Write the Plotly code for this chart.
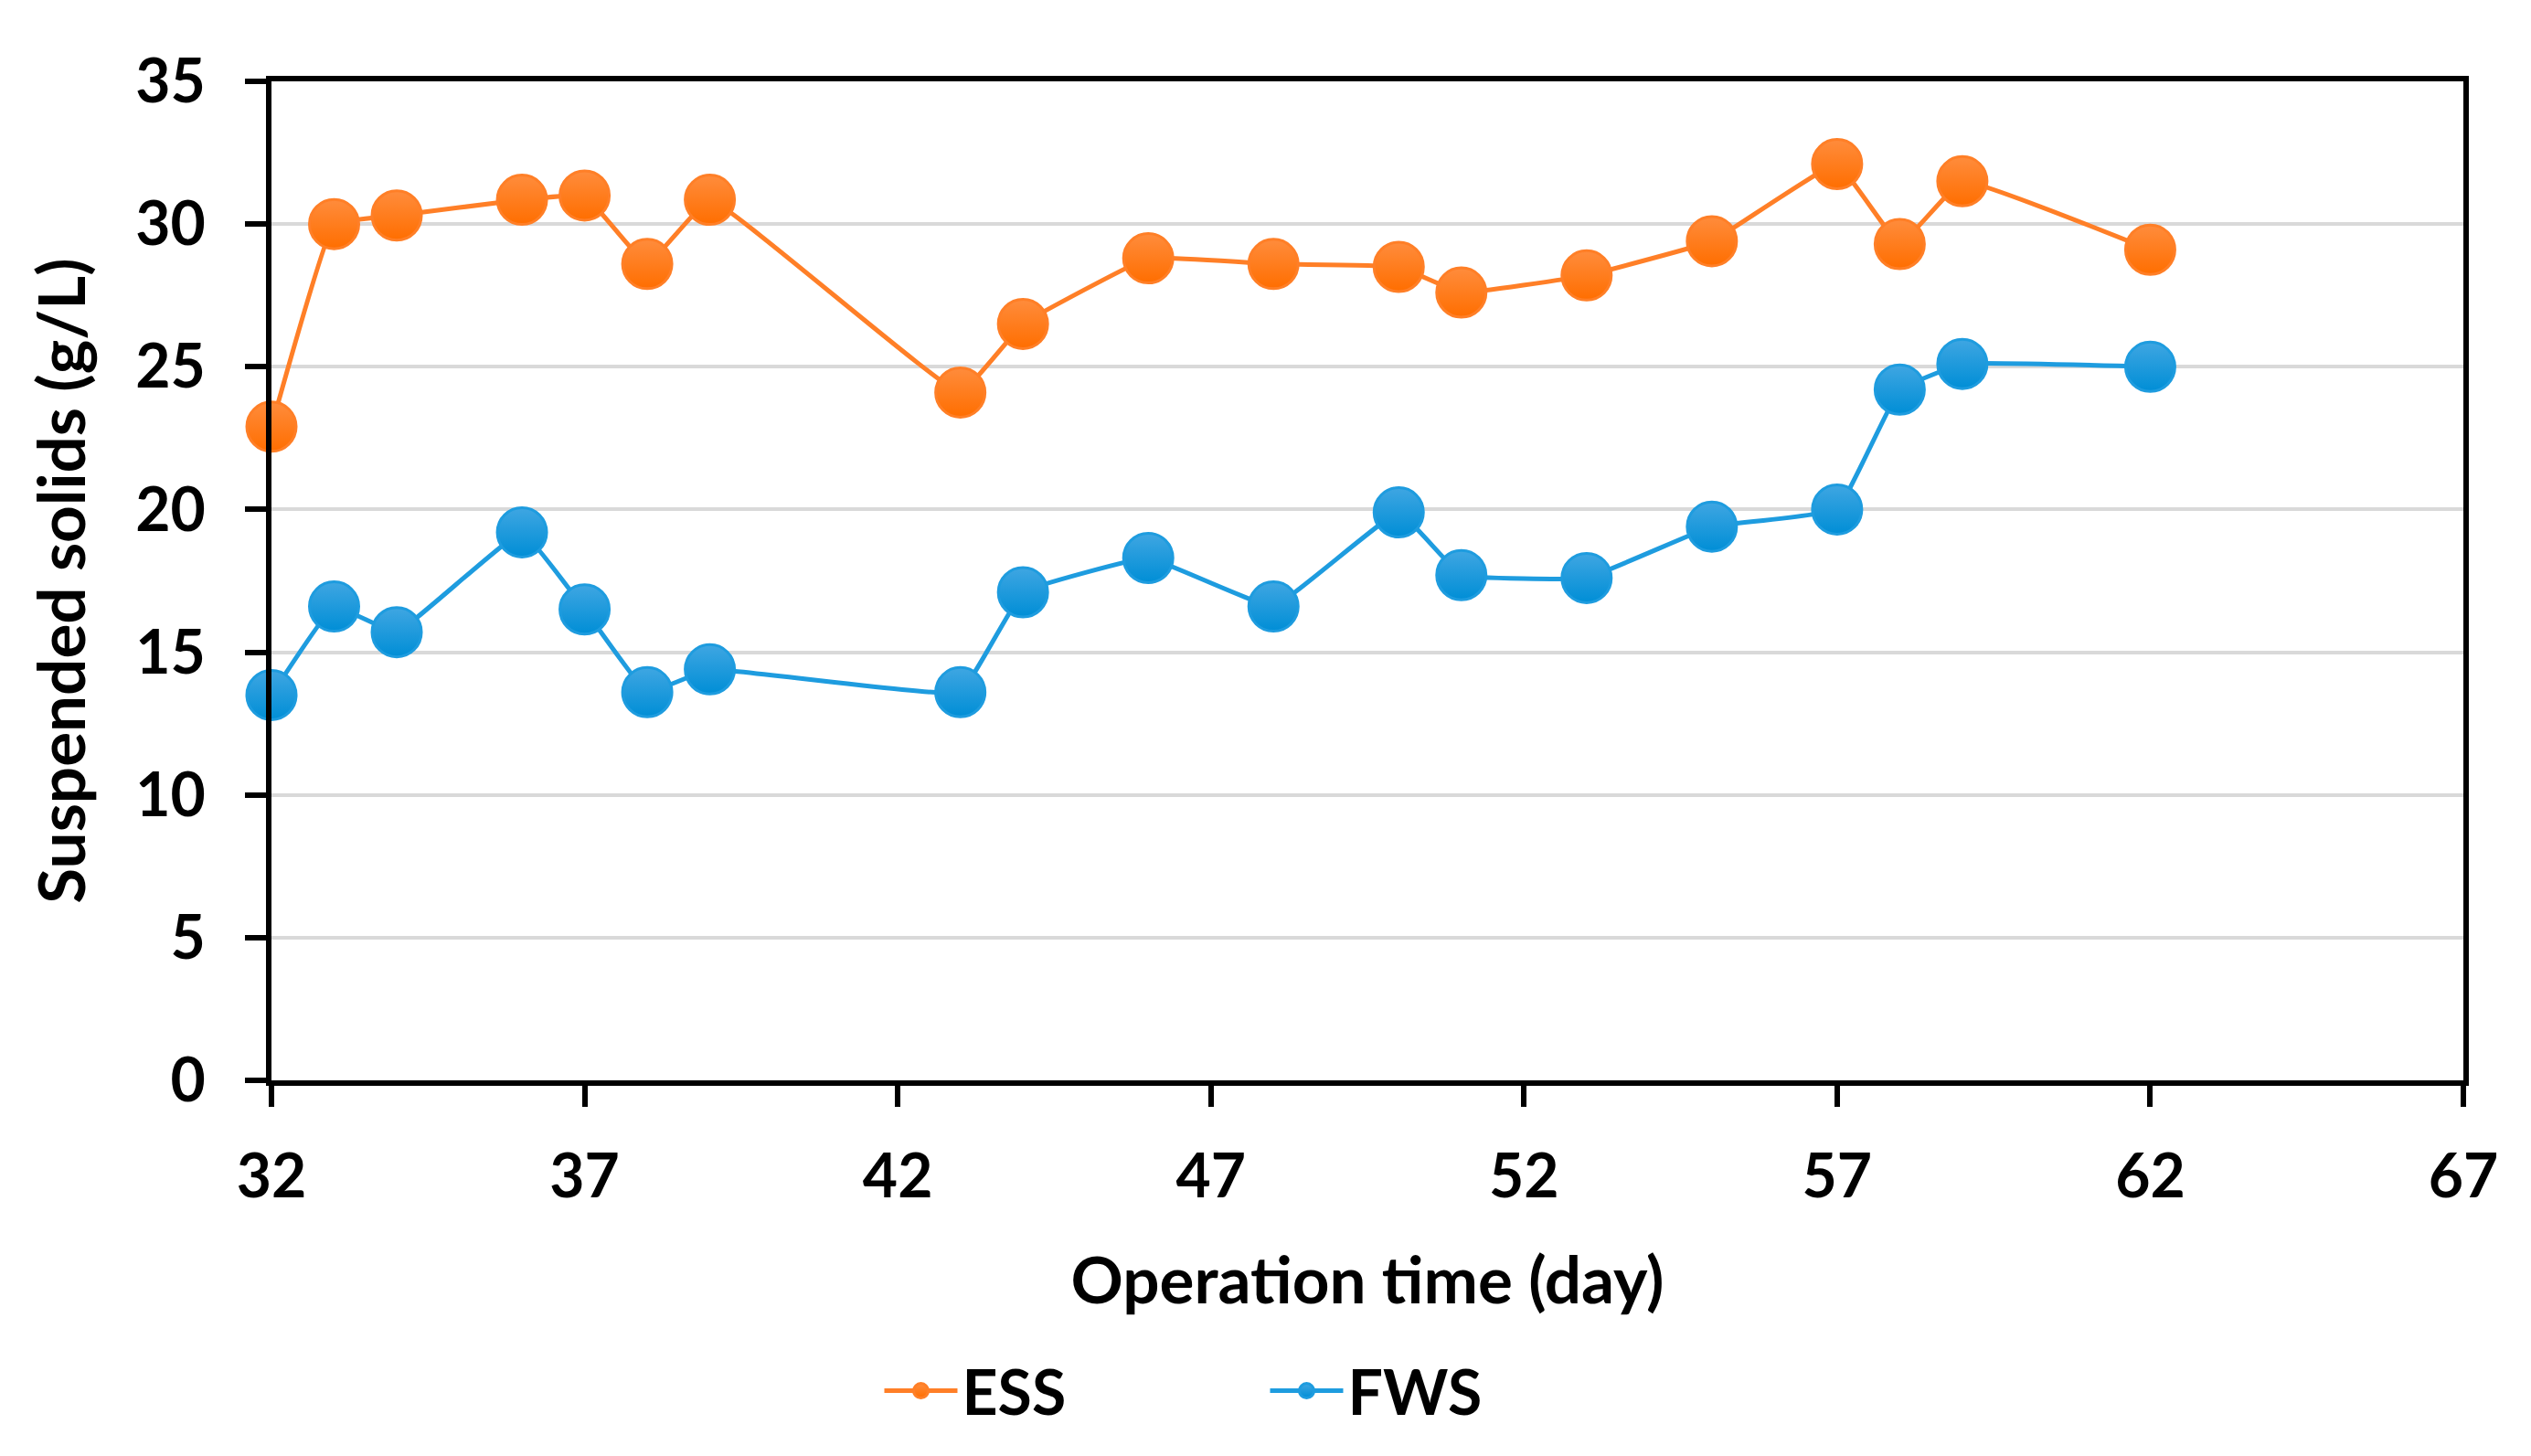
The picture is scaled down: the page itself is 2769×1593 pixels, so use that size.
import plotly.graph_objects as go

days = [32, 33, 34, 36, 37, 38, 39, 43, 44, 46, 48, 50, 51, 53, 55, 57, 58, 59, 62]
ess = [22.9, 30.0, 30.3, 30.85, 31.0, 28.6, 30.85, 24.1, 26.5, 28.8, 28.6, 28.5, 27.6, 28.2, 29.4, 32.1, 29.3, 31.5, 29.1]
fws = [13.5, 16.6, 15.7, 19.2, 16.5, 13.6, 14.4, 13.6, 17.1, 18.3, 16.6, 19.9, 17.7, 17.6, 19.4, 20.0, 24.2, 25.1, 25.0]

x_ticks = [32, 37, 42, 47, 52, 57, 62, 67]
y_ticks = [0, 5, 10, 15, 20, 25, 30, 35]

FONT = "Lato"
W, H = 2753, 1577

fig = go.Figure()
series = [
    ("ESS", ess, "#FF7F27", "#FF8C3C", "#FF6E00"),
    ("FWS", fws, "#1E9CDF", "#3FA6E2", "#008ED6"),
]
for name, vals, lc, top, bot in series:
    fig.add_trace(go.Scatter(
        x=days, y=vals, name=name, mode="lines+markers",
        line=dict(color=lc, width=5, shape="spline", smoothing=0.25),
        marker=dict(size=54, color=top, gradient=dict(type="vertical", color=bot),
                    line=dict(color=lc, width=3)),
        cliponaxis=False,
    ))

axis_common = dict(
    showline=True, linecolor="black", linewidth=6, mirror=True,
    ticks="outside", ticklen=23, tickwidth=6, tickcolor="black",
    tickfont=dict(family=FONT, size=66, color="black", weight="bold"),
    zeroline=False,
)

fig.update_layout(
    width=W, height=H,
    paper_bgcolor="white", plot_bgcolor="white",
    margin=dict(l=289, r=66, t=81, b=381, pad=0),
    font=dict(family=FONT, color="black"),
    xaxis=dict(
        range=[32, 67], tickvals=x_ticks, showgrid=False,
        title=dict(text="Operation time (day)", standoff=55,
                   font=dict(family=FONT, size=71, color="black", weight="bold")),
        ticklabelstandoff=20,
        **axis_common,
    ),
    yaxis=dict(
        range=[0, 35], tickvals=y_ticks, showgrid=True, gridcolor="#D9D9D9", gridwidth=4,
        title=dict(text="Suspended solids (g/L)", standoff=33,
                   font=dict(family=FONT, size=71, color="black", weight="bold")),
        ticklabelstandoff=30,
        **axis_common,
    ),
    showlegend=True,
    legend=dict(
        orientation="h", x=0.4535, xanchor="center", y=-0.311, yanchor="middle",
        font=dict(family=FONT, size=68, color="black", weight="bold"),
        itemwidth=80, entrywidth=327, bgcolor="rgba(0,0,0,0)",
    ),
)

fig.write_html("out.html")
